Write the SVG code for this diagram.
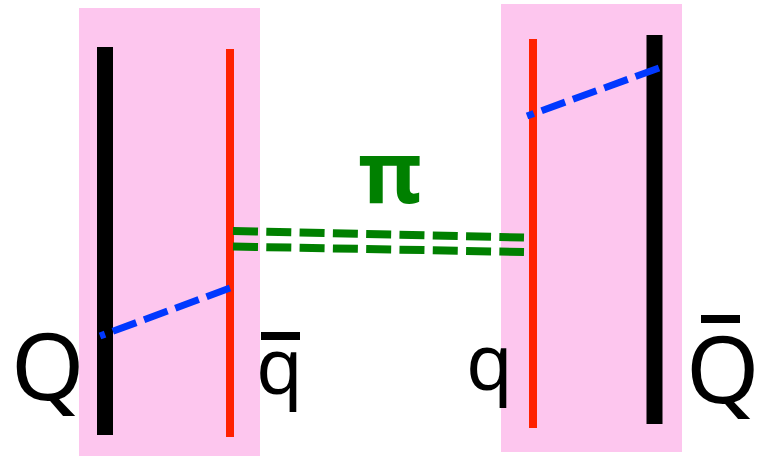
<svg xmlns="http://www.w3.org/2000/svg" width="760" height="456" viewBox="0 0 760 456">
  <style>
    .box { fill: #fdc6ee; }
    .heavy { stroke: #000000; stroke-width: 16; }
    .light { stroke: #ff2200; stroke-width: 8; }
    .string { stroke: #0038ff; stroke-width: 7; stroke-dasharray: 25 8.3; fill: none; }
    .pion { stroke: #008000; stroke-width: 8; stroke-dasharray: 25 8.3; fill: none; }
    .bar { stroke: #000000; stroke-width: 8; }
    .lbl { font-family: "Noto Sans", "DejaVu Sans", sans-serif; fill: #000000; }
    .pi { font-family: "Noto Sans", "DejaVu Sans", sans-serif; font-weight: bold; fill: #008000; }
  </style>
  <rect width="760" height="456" fill="#ffffff"/>
  <g id="mesonLeft">
    <rect class="box" x="79" y="8" width="181" height="448"/>
    <line class="heavy" x1="105" y1="47" x2="105" y2="435"/>
    <line class="light" x1="230" y1="49" x2="230" y2="437"/>
    <text class="lbl" x="11" y="400" font-size="94">Q</text>
    <line class="bar" x1="261" y1="336" x2="300" y2="336"/>
    <text class="lbl" x="256" y="394" font-size="76">q</text>
  </g>
  <g id="mesonRight">
    <rect class="box" x="501" y="4" width="181" height="448"/>
    <line class="light" x1="533" y1="39" x2="533" y2="428"/>
    <line class="heavy" x1="654.5" y1="35" x2="654.5" y2="424"/>
    <text class="lbl" x="466" y="390" font-size="76">q</text>
    <line class="bar" x1="701" y1="319" x2="740" y2="319"/>
    <text class="lbl" x="686" y="403" font-size="94">Q</text>
  </g>
  <g id="connectors">
    <line class="string" x1="230" y1="288" x2="100" y2="336"/>
    <line class="string" x1="659" y1="68" x2="527" y2="116"/>
    <line class="pion" x1="233" y1="231" x2="524" y2="237.5"/>
    <line class="pion" x1="233" y1="246.5" x2="524" y2="252"/>
  </g>
  <text class="pi" x="390" y="203" font-size="86" text-anchor="middle">π</text>
</svg>
